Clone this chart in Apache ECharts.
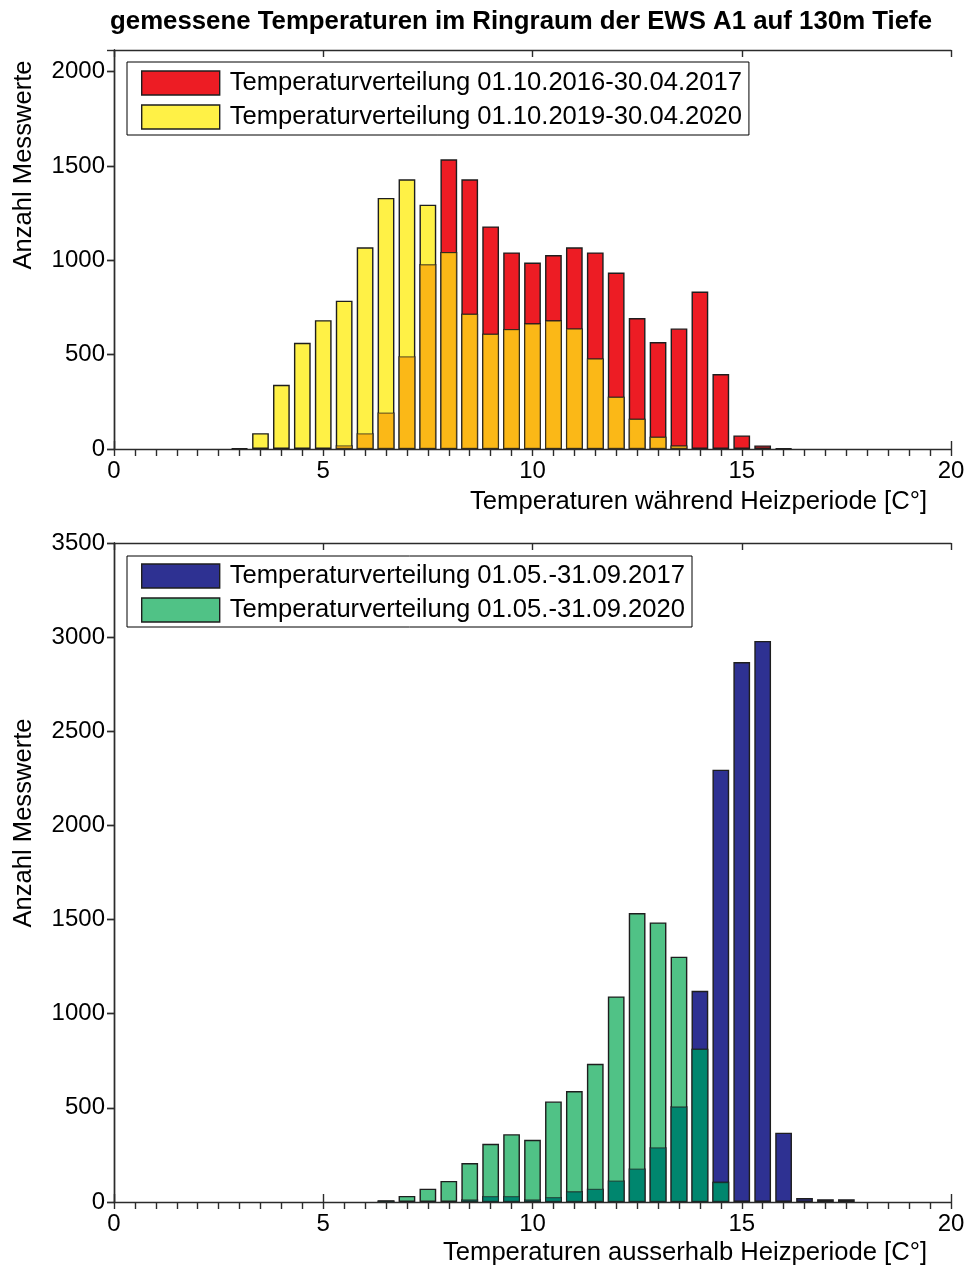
<!DOCTYPE html>
<html>
<head>
<meta charset="utf-8">
<script src="https://cdn.jsdelivr.net/npm/echarts@6/dist/echarts.min.js"></script>
<style>
  html, body { margin: 0; padding: 0; background: #fff; }
  #chart { width: 969px; height: 1273px; }
</style>
</head>
<body>
<div id="chart"></div>
<script>
// Temperature bins [°C], 0.5 K wide, heating period
const binsHeat = [3.0, 3.5, 4.0, 4.5, 5.0, 5.5, 6.0, 6.5, 7.0, 7.5, 8.0, 8.5, 9.0, 9.5,
                  10.0, 10.5, 11.0, 11.5, 12.0, 12.5, 13.0, 13.5, 14.0, 14.5, 15.0, 15.5, 16.0];
// Counts 01.10.2016-30.04.2017
const heat2016 = [0, 0, 0, 0, 0, 20, 84, 194, 492, 980, 1536, 1430, 1180, 1042,
                  988, 1028, 1069, 1042, 935, 694, 567, 639, 835, 397, 72, 19, 3];
// Counts 01.10.2019-30.04.2020
const heat2019 = [4, 84, 340, 563, 683, 786, 1069, 1331, 1430, 1295, 1044, 717, 611, 636,
                  666, 682, 639, 480, 277, 160, 65, 19, 0, 0, 0, 0, 0];

// Temperature bins [°C] outside the heating period
const binsSummer = [6.5, 7.0, 7.5, 8.0, 8.5, 9.0, 9.5, 10.0, 10.5, 11.0, 11.5, 12.0,
                    12.5, 13.0, 13.5, 14.0, 14.5, 15.0, 15.5, 16.0, 16.5, 17.0, 17.5];
// Counts 01.05.-31.09.2017
const summer2017 = [8, 0, 0, 0, 14, 32, 32, 14, 27, 58, 71, 114,
                    178, 291, 508, 1122, 2296, 2868, 2980, 368, 21, 15, 15];
// Counts 01.05.-31.09.2020
const summer2020 = [8, 32, 71, 112, 207, 309, 360, 330, 534, 589, 734, 1092,
                    1535, 1485, 1303, 814, 107, 0, 0, 0, 0, 0, 0];

const legendHeat = ['Temperaturverteilung 01.10.2016-30.04.2017', 'Temperaturverteilung 01.10.2019-30.04.2020'];
const legendSummer = ['Temperaturverteilung 01.05.-31.09.2017', 'Temperaturverteilung 01.05.-31.09.2020'];

const X_MIN = 0, X_MAX = 20, X_STEP = 5, X_MINOR = 0.5, Y_STEP = 500;
const Y_MAX_HEAT = 2115, Y_MAX_SUMMER = 3500;

// layout
const W = 969;
const gridLeft = 114, gridRight = 18;
const gridW = W - gridLeft - gridRight;
const barW = gridW / (X_MAX - X_MIN) * 0.4;
const FONT = '"Liberation Sans", Arial, sans-serif';
const AX = { color: '#2b2b2b', width: 1.4 };
const BORDER = { borderColor: '#1e1e1e', borderWidth: 1.4 };
const TXT = 25.6;

const pairs = (bins, vals) => bins.map((b, i) => [b, vals[i] > 0 ? vals[i] : '-']);
const overlap = (bins, a, b) => bins.map((x, i) => {
  const m = Math.min(a[i], b[i]);
  return [x, m > 0 ? m : '-'];
});

function axesFor(grid, yMax) {
  const xs = [
    { gridIndex: grid, type: 'value', min: X_MIN, max: X_MAX, interval: X_STEP, position: 'bottom',
      axisLine: { show: true, lineStyle: AX }, axisTick: { show: true, inside: true, length: 8, lineStyle: AX },
      axisLabel: { show: true, color: '#000', fontSize: 24, fontFamily: FONT, margin: 10 },
      splitLine: { show: false } },
    { gridIndex: grid, type: 'value', min: X_MIN, max: X_MAX, interval: X_MINOR, position: 'bottom', offset: 0,
      axisLine: { show: false }, axisTick: { show: true, inside: false, length: 7, lineStyle: AX },
      axisLabel: { show: false }, splitLine: { show: false } },
    { gridIndex: grid, type: 'value', min: X_MIN, max: X_MAX, interval: X_STEP, position: 'top',
      axisLine: { show: true, lineStyle: AX }, axisTick: { show: true, inside: true, length: 7, lineStyle: AX },
      axisLabel: { show: false }, splitLine: { show: false } }
  ];
  const ys = [
    { gridIndex: grid, type: 'value', min: 0, max: yMax, interval: Y_STEP, position: 'left',
      axisLine: { show: true, lineStyle: AX }, axisTick: { show: true, inside: false, length: 7, lineStyle: AX },
      axisLabel: { show: true, color: '#000', fontSize: 24, fontFamily: FONT, margin: 9,
                   showMaxLabel: yMax % Y_STEP === 0, formatter: v => String(v) },
      splitLine: { show: false } },
    { gridIndex: grid, type: 'value', min: 0, max: yMax, interval: Y_STEP, position: 'right',
      axisLine: { show: true, lineStyle: AX }, axisTick: { show: true, inside: true, length: 7, lineStyle: AX },
      axisLabel: { show: false }, splitLine: { show: false } }
  ];
  return { xs, ys };
}

const heatAxes = axesFor(0, Y_MAX_HEAT);
const summerAxes = axesFor(1, Y_MAX_SUMMER);

function barSeries(name, data, color, xi, yi, opts) {
  return Object.assign({
    name, type: 'bar', data, xAxisIndex: xi, yAxisIndex: yi,
    barWidth: barW, barGap: '-100%',
    itemStyle: Object.assign({ color }, BORDER),
    emphasis: { disabled: true }, animation: false
  }, opts || {});
}

const COL = {
  red: '#ED1C24', yellow: '#FFF146', orange: '#FBB817',
  blue: '#2E3192', green: '#50C286', teal: '#00866E'
};

const legendCommon = {
  orient: 'vertical', itemWidth: 78, itemHeight: 24, itemGap: 8,
  borderColor: '#000', borderWidth: 1, backgroundColor: '#fff',
  icon: 'rect',
  itemStyle: { borderColor: '#1e1e1e', borderWidth: 1.4 },
  textStyle: { color: '#000', fontSize: TXT, fontFamily: FONT, lineHeight: 24, padding: [0, 0, 0, 5] },
  selectedMode: false
};

const option = {
  backgroundColor: '#fff',
  animation: false,
  grid: [
    { left: gridLeft, right: gridRight, top: 50, height: 399 },
    { left: gridLeft, right: gridRight, top: 543, height: 659 }
  ],
  xAxis: heatAxes.xs.concat(summerAxes.xs),
  yAxis: heatAxes.ys.concat(summerAxes.ys),
  legend: [
    Object.assign({ data: legendHeat, left: 127, top: 62, padding: [8, 7, 5, 14] }, legendCommon),
    Object.assign({ data: legendSummer, left: 127, top: 556, padding: [7, 7, 4, 14] }, legendCommon)
  ],
  series: [
    barSeries(legendHeat[0], pairs(binsHeat, heat2016), COL.red, 0, 0),
    barSeries(legendHeat[1], pairs(binsHeat, heat2019), COL.yellow, 0, 0),
    barSeries('overlapHeat', overlap(binsHeat, heat2016, heat2019), COL.orange, 0, 0,
      { itemStyle: { color: COL.orange, borderColor: 'rgba(30,30,30,0.6)', borderWidth: 1.3 } }),
    barSeries(legendSummer[0], pairs(binsSummer, summer2017), COL.blue, 3, 2),
    barSeries(legendSummer[1], pairs(binsSummer, summer2020), COL.green, 3, 2),
    barSeries('overlapSummer', overlap(binsSummer, summer2017, summer2020), COL.teal, 3, 2,
      { itemStyle: { color: COL.teal, borderColor: 'rgba(30,30,30,0.6)', borderWidth: 1.3 } })
  ],
  graphic: [
    { type: 'text', x: 521, y: 22, style: { text: 'gemessene Temperaturen im Ringraum der EWS A1 auf 130m Tiefe',
      font: 'bold 25.8px ' + FONT, fill: '#000', align: 'center', verticalAlign: 'middle' } },
    { type: 'text', x: 24, y: 165, rotation: Math.PI / 2, style: { text: 'Anzahl Messwerte',
      font: TXT + 'px ' + FONT, fill: '#000', align: 'center', verticalAlign: 'middle' } },
    { type: 'text', x: 24, y: 823, rotation: Math.PI / 2, style: { text: 'Anzahl Messwerte',
      font: TXT + 'px ' + FONT, fill: '#000', align: 'center', verticalAlign: 'middle' } },
    { type: 'text', x: 927, y: 502, style: { text: 'Temperaturen während Heizperiode [C°]',
      font: TXT + 'px ' + FONT, fill: '#000', align: 'right', verticalAlign: 'middle' } },
    { type: 'text', x: 927, y: 1253, style: { text: 'Temperaturen ausserhalb Heizperiode [C°]',
      font: TXT + 'px ' + FONT, fill: '#000', align: 'right', verticalAlign: 'middle' } }
  ]
};

const chart = echarts.init(document.getElementById('chart'), null, { renderer: 'canvas' });
chart.setOption(option);
</script>
</body>
</html>
